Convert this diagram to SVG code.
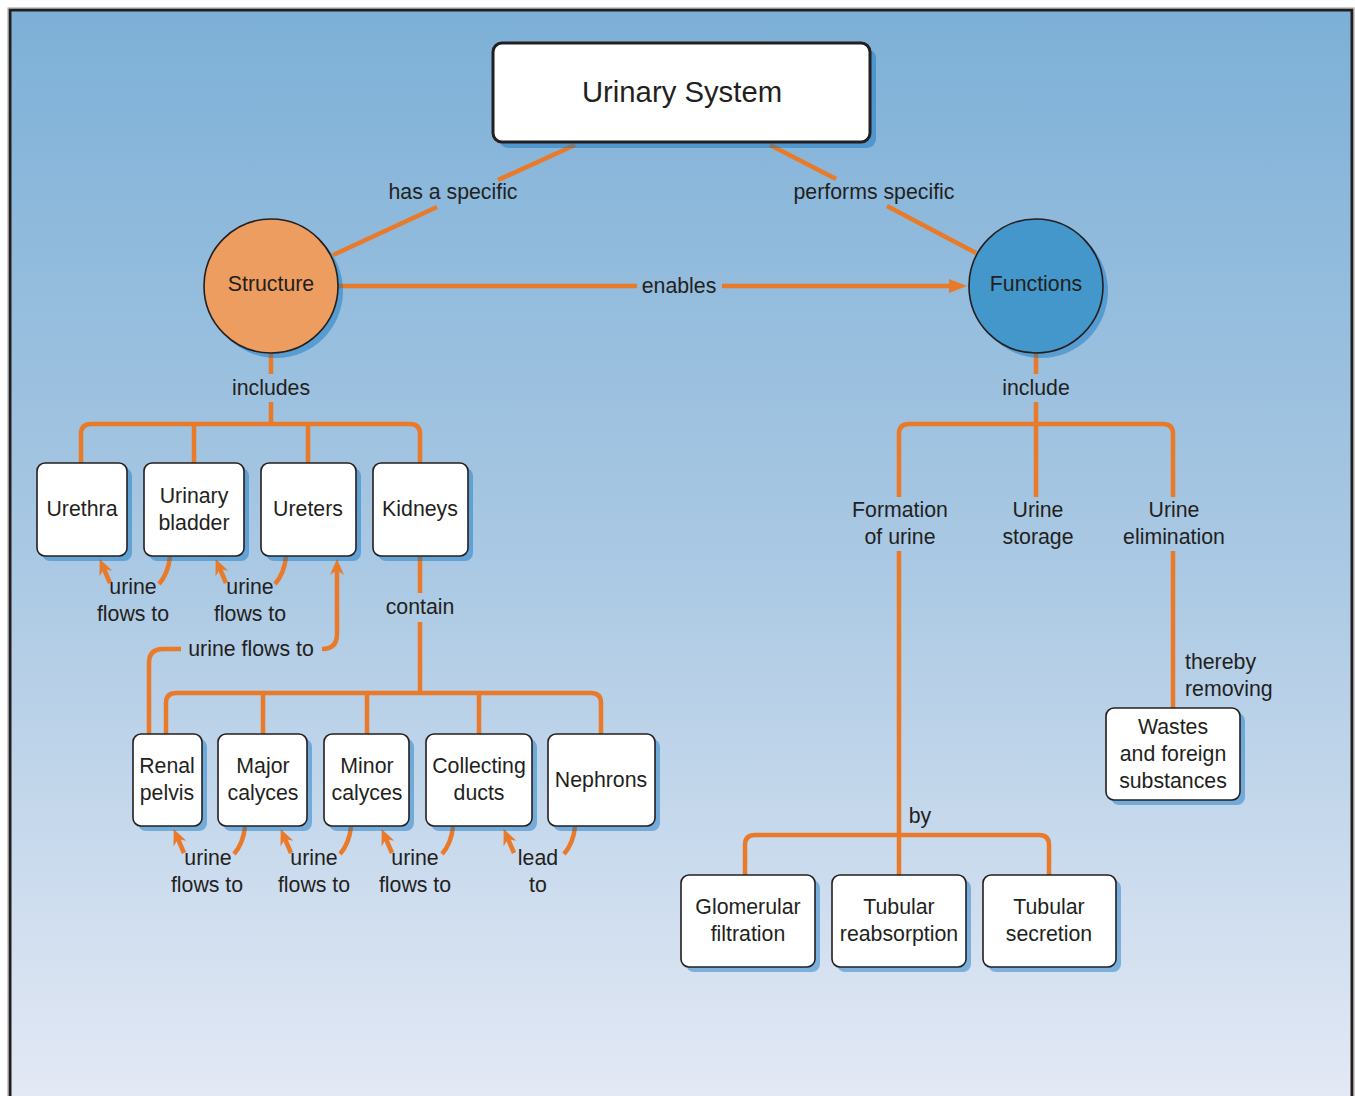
<svg xmlns="http://www.w3.org/2000/svg" width="1355" height="1096" viewBox="0 0 1355 1096">
<defs>
<linearGradient id="bg" x1="0" y1="10" x2="0" y2="1096" gradientUnits="userSpaceOnUse">
<stop offset="0" stop-color="#7db0d7"/>
<stop offset="0.5" stop-color="#a9c8e3"/>
<stop offset="1" stop-color="#e3e9f5"/>
</linearGradient>
<marker id="ah" viewBox="0 0 16 14" refX="5" refY="7" markerWidth="16" markerHeight="14" orient="auto" markerUnits="userSpaceOnUse">
<path d="M0,0 L16,7 L0,14 L5,7 z" fill="#e87a2a"/>
</marker>
<marker id="ahL" viewBox="0 0 18 14" refX="1" refY="7" markerWidth="18" markerHeight="14" orient="auto" markerUnits="userSpaceOnUse">
<path d="M0,0 L18,7 L0,14 z" fill="#e87a2a"/>
</marker>
</defs>
<style>
.t{font-family:"Liberation Sans",Arial,sans-serif;font-size:21.3px;fill:#231f20;text-anchor:middle}
.l{text-anchor:start}
.c{fill:none;stroke:#e87a2a;stroke-width:4.5;stroke-linecap:butt;stroke-linejoin:round}
.a{marker-end:url(#ah)}
.box{fill:#ffffff;stroke:#231f20;stroke-width:1.6}
.sh{fill:#006ebe;fill-opacity:0.42}
</style>
<rect x="10" y="10" width="1342" height="1100" fill="url(#bg)" stroke="#231f20" stroke-width="3"/>
<rect x="8" y="8" width="1346" height="1104" fill="none" stroke="#9a9a9a" stroke-width="1"/>

<g id="connectors">
<path class="c" d="M575,145 L498,180 M437,207 L333,255"/>
<path class="c" d="M770,145 L836,179 M887,206 L976,253"/>
<path class="c" d="M338,286 H637"/>
<path class="c" d="M722,286 H950" marker-end="url(#ahL)"/>
<path class="c" d="M271,353 V374 M271,402 V424"/>
<path class="c" d="M81,463 V434 Q81,424 91,424 H410 Q420,424 420,434 V463 M194,424 V463 M308,424 V463"/>
<path class="c" d="M420,557 V593 M420,622 V693"/>
<path class="c" d="M166,734 V703 Q166,693 176,693 H591 Q601,693 601,703 V734 M263,693 V734 M367,693 V734 M479,693 V734"/>
<path class="c" d="M181,649 H163 Q149,649 149,663 V734"/>
<path class="c a" d="M322,649 Q337,649 337,634 V570"/>
<path class="c" d="M170,557 Q168,574 159,584"/>
<path class="c a" d="M110,583 L104,569"/>
<path class="c" d="M286,557 Q284,574 275,584"/>
<path class="c a" d="M226,583 L220,569"/>
<path class="c" d="M245,827 Q243,844 234,854"/>
<path class="c a" d="M184,853 L178,839"/>
<path class="c" d="M351,827 Q349,844 340,854"/>
<path class="c a" d="M291,853 L285,839"/>
<path class="c" d="M453,827 Q451,844 442,854"/>
<path class="c a" d="M392,853 L386,839"/>
<path class="c" d="M575,827 Q573,844 564,854"/>
<path class="c a" d="M514,853 L508,839"/>
<path class="c" d="M1036,353 V374 M1036,402 V497"/>
<path class="c" d="M899,497 V434 Q899,424 909,424 H1163 Q1173,424 1173,434 V497"/>
<path class="c" d="M899,551 V875"/>
<path class="c" d="M745,875 V845 Q745,835 755,835 H1039 Q1049,835 1049,845 V875"/>
<path class="c" d="M1173,551 V708"/>
</g>

<g id="urinary-system">
<rect class="sh" x="499" y="49" width="377" height="99" rx="9"/>
<rect x="493" y="43" width="377" height="99" rx="9" fill="#fff" stroke="#231f20" stroke-width="3"/>
<text class="t" x="682" y="102" style="font-size:29.3px">Urinary System</text>
</g>

<g id="structure">
<circle class="sh" cx="276" cy="291" r="67"/>
<circle cx="271" cy="286" r="67" fill="#ec9d5f" stroke="#231f20" stroke-width="1.6"/>
<text class="t" x="271" y="291">Structure</text>
</g>

<g id="functions">
<circle class="sh" cx="1041" cy="291" r="67"/>
<circle cx="1036" cy="286" r="67" fill="#4397cb" stroke="#231f20" stroke-width="1.6"/>
<text class="t" x="1036" y="291">Functions</text>
</g>

<g id="labels">
<text class="t" x="453" y="199">has a specific</text>
<text class="t" x="874" y="199">performs specific</text>
<text class="t" x="679" y="293">enables</text>
<text class="t" x="271" y="395">includes</text>
<text class="t" x="1036" y="395">include</text>
<text class="t" x="133" y="594">urine</text>
<text class="t" x="133" y="621">flows to</text>
<text class="t" x="250" y="594">urine</text>
<text class="t" x="250" y="621">flows to</text>
<text class="t" x="251" y="656">urine flows to</text>
<text class="t" x="420" y="614">contain</text>
<text class="t" x="208" y="865">urine</text>
<text class="t" x="207" y="892">flows to</text>
<text class="t" x="314" y="865">urine</text>
<text class="t" x="314" y="892">flows to</text>
<text class="t" x="415" y="865">urine</text>
<text class="t" x="415" y="892">flows to</text>
<text class="t" x="538" y="865">lead</text>
<text class="t" x="538" y="892">to</text>
<text class="t" x="920" y="823">by</text>
<text class="t l" x="1185" y="669">thereby</text>
<text class="t l" x="1185" y="696">removing</text>
</g>

<g id="urethra">
<rect class="sh" x="42" y="468" width="90" height="93" rx="8"/>
<rect class="box" x="37" y="463" width="90" height="93" rx="8"/>
<text class="t" x="82" y="516">Urethra</text>
</g>
<g id="urinary-bladder">
<rect class="sh" x="149" y="468" width="100" height="93" rx="8"/>
<rect class="box" x="144" y="463" width="100" height="93" rx="8"/>
<text class="t" x="194" y="503">Urinary</text>
<text class="t" x="194" y="530">bladder</text>
</g>
<g id="ureters">
<rect class="sh" x="266" y="468" width="95" height="93" rx="8"/>
<rect class="box" x="261" y="463" width="95" height="93" rx="8"/>
<text class="t" x="308" y="516">Ureters</text>
</g>
<g id="kidneys">
<rect class="sh" x="378" y="468" width="95" height="93" rx="8"/>
<rect class="box" x="373" y="463" width="95" height="93" rx="8"/>
<text class="t" x="420" y="516">Kidneys</text>
</g>

<g id="renal-pelvis">
<rect class="sh" x="138" y="739" width="69" height="92" rx="8"/>
<rect class="box" x="133" y="734" width="69" height="92" rx="8"/>
<text class="t" x="167" y="773">Renal</text>
<text class="t" x="167" y="800">pelvis</text>
</g>
<g id="major-calyces">
<rect class="sh" x="223" y="739" width="89" height="92" rx="8"/>
<rect class="box" x="218" y="734" width="89" height="92" rx="8"/>
<text class="t" x="263" y="773">Major</text>
<text class="t" x="263" y="800">calyces</text>
</g>
<g id="minor-calyces">
<rect class="sh" x="329" y="739" width="85" height="92" rx="8"/>
<rect class="box" x="324" y="734" width="85" height="92" rx="8"/>
<text class="t" x="367" y="773">Minor</text>
<text class="t" x="367" y="800">calyces</text>
</g>
<g id="collecting-ducts">
<rect class="sh" x="431" y="739" width="106" height="92" rx="8"/>
<rect class="box" x="426" y="734" width="106" height="92" rx="8"/>
<text class="t" x="479" y="773">Collecting</text>
<text class="t" x="479" y="800">ducts</text>
</g>
<g id="nephrons">
<rect class="sh" x="553" y="739" width="107" height="92" rx="8"/>
<rect class="box" x="548" y="734" width="107" height="92" rx="8"/>
<text class="t" x="601" y="787">Nephrons</text>
</g>

<g id="formation-of-urine">
<text class="t" x="900" y="517">Formation</text>
<text class="t" x="900" y="544">of urine</text>
</g>
<g id="urine-storage">
<text class="t" x="1038" y="517">Urine</text>
<text class="t" x="1038" y="544">storage</text>
</g>
<g id="urine-elimination">
<text class="t" x="1174" y="517">Urine</text>
<text class="t" x="1174" y="544">elimination</text>
</g>

<g id="wastes">
<rect class="sh" x="1111" y="713" width="134" height="92" rx="8"/>
<rect class="box" x="1106" y="708" width="134" height="92" rx="8"/>
<text class="t" x="1173" y="734">Wastes</text>
<text class="t" x="1173" y="761">and foreign</text>
<text class="t" x="1173" y="788">substances</text>
</g>

<g id="glomerular-filtration">
<rect class="sh" x="686" y="880" width="134" height="92" rx="8"/>
<rect class="box" x="681" y="875" width="134" height="92" rx="8"/>
<text class="t" x="748" y="914">Glomerular</text>
<text class="t" x="748" y="941">filtration</text>
</g>
<g id="tubular-reabsorption">
<rect class="sh" x="837" y="880" width="134" height="92" rx="8"/>
<rect class="box" x="832" y="875" width="134" height="92" rx="8"/>
<text class="t" x="899" y="914">Tubular</text>
<text class="t" x="899" y="941">reabsorption</text>
</g>
<g id="tubular-secretion">
<rect class="sh" x="988" y="880" width="133" height="92" rx="8"/>
<rect class="box" x="983" y="875" width="133" height="92" rx="8"/>
<text class="t" x="1049" y="914">Tubular</text>
<text class="t" x="1049" y="941">secretion</text>
</g>
</svg>
